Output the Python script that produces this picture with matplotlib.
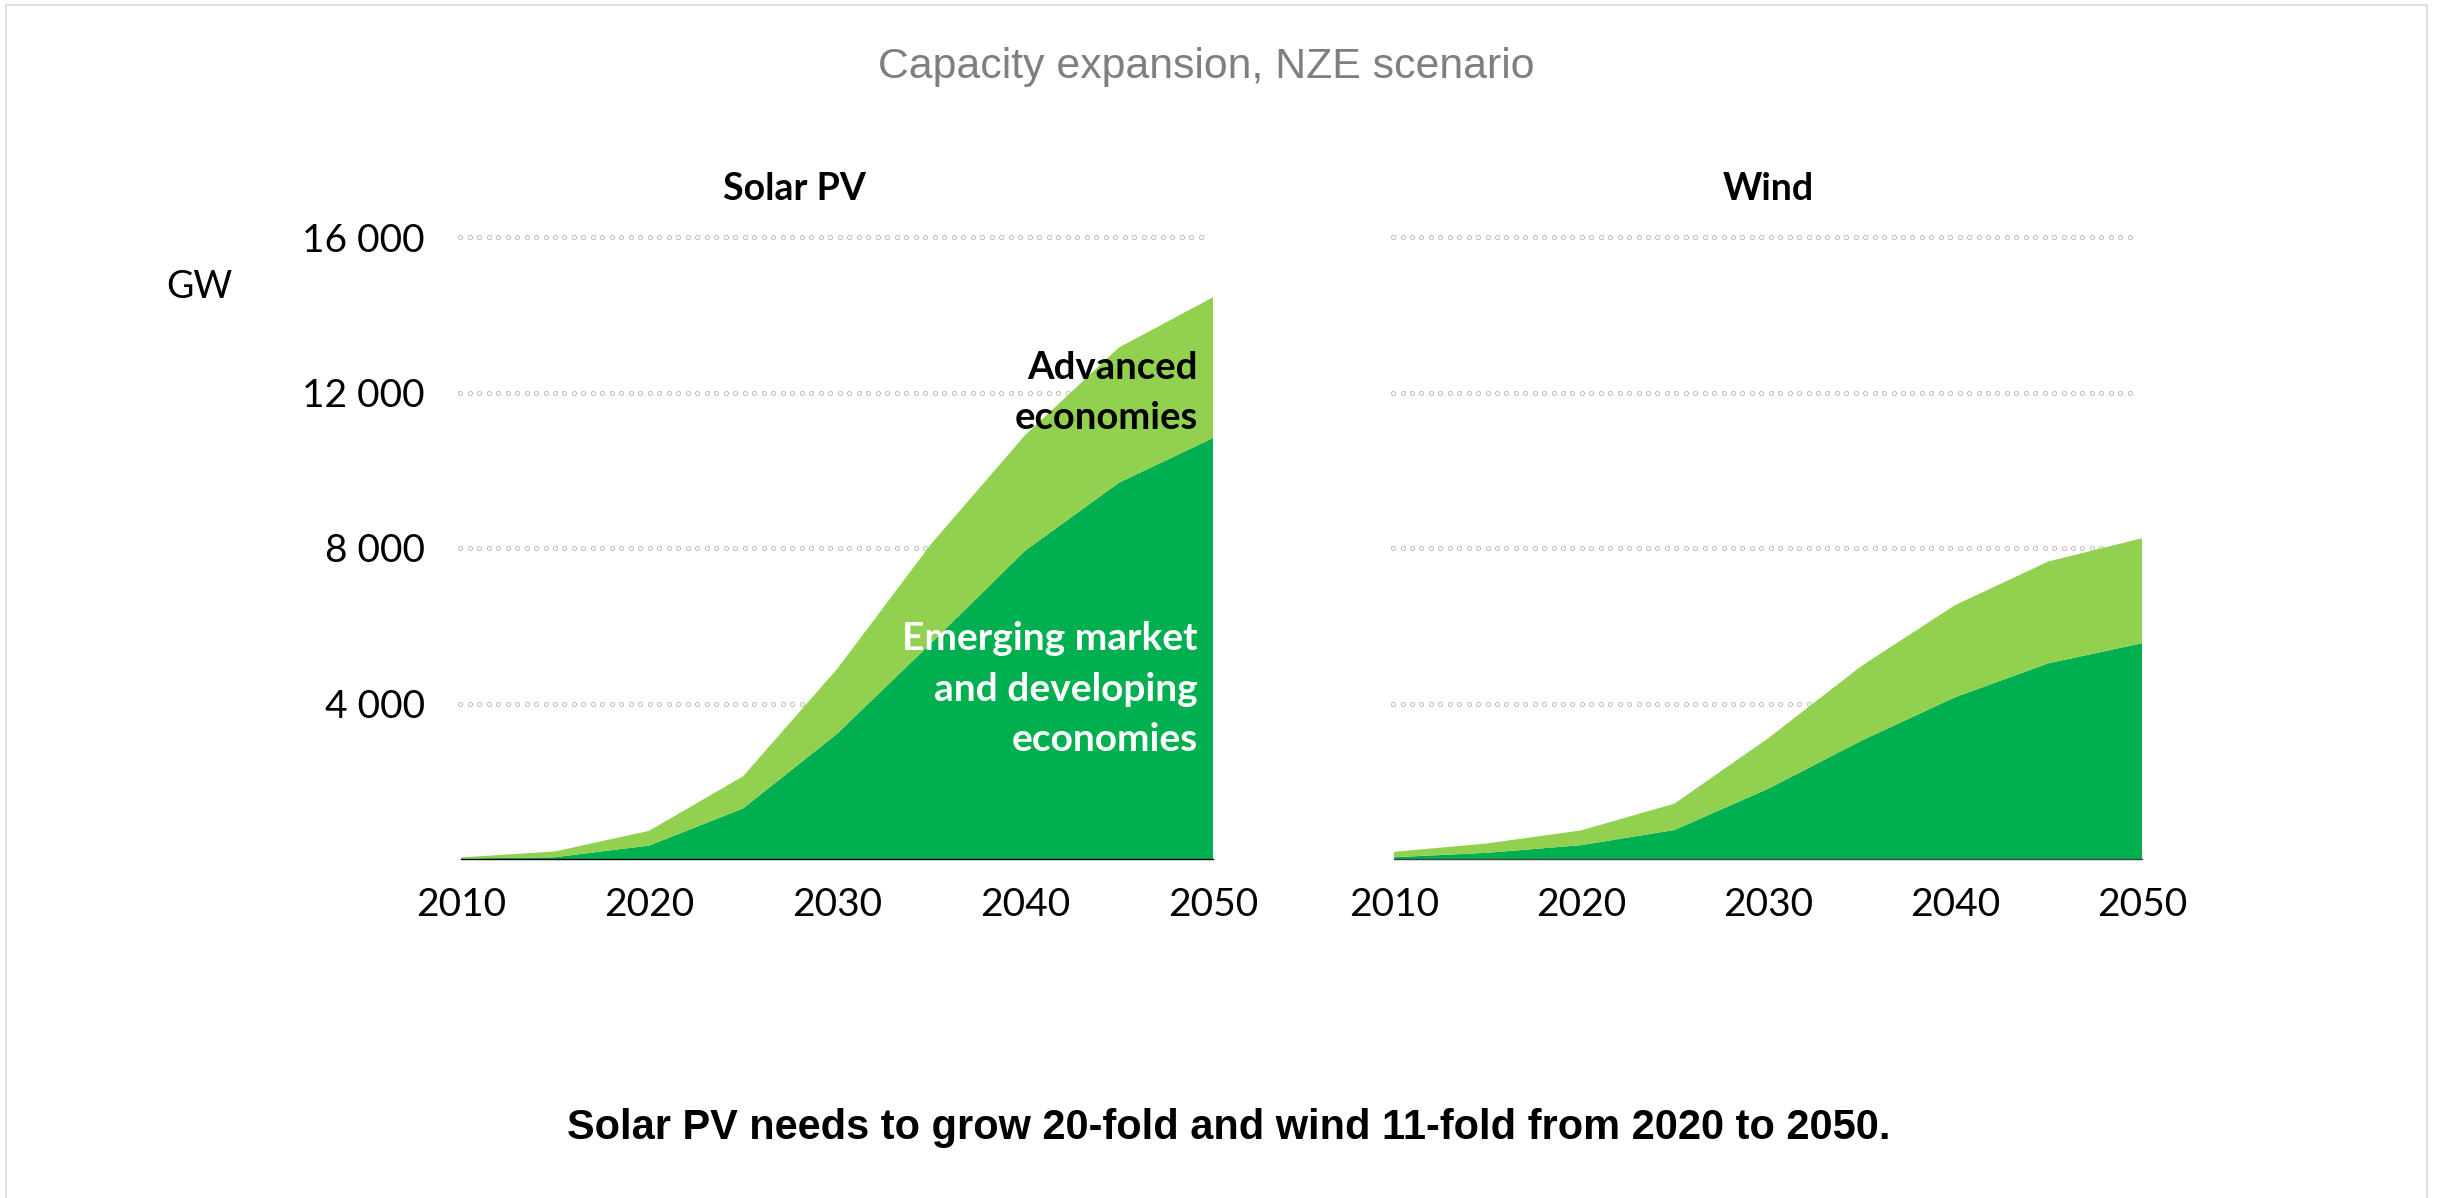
import numpy as np
import matplotlib
matplotlib.use("Agg")
import matplotlib.pyplot as plt
from matplotlib.ticker import FuncFormatter
from matplotlib.patches import Rectangle

# Installed capacity (GW) by region group, NZE scenario
years = [2010, 2015, 2020, 2025, 2030, 2035, 2040, 2045, 2050]
solar_emde = [10, 46, 345, 1300, 3220, 5550, 7930, 9680, 10830]
solar_advanced = [30, 149, 379, 826, 1665, 2550, 2970, 3480, 3620]
wind_emde = [46, 160, 356, 747, 1805, 3045, 4160, 5035, 5550]
wind_advanced = [138, 242, 380, 678, 1298, 1920, 2370, 2620, 2700]

panel_titles = ["Solar PV", "Wind"]
y_ticks = [4000, 8000, 12000, 16000]
x_ticks = [2010, 2020, 2030, 2040, 2050]

DARK = "#00B050"
LIGHT = "#92D050"
GRID = "#BFBFBF"
W, H = 2440, 1198

plt.rcParams["font.family"] = ["Lato", "DejaVu Sans"]

fig = plt.figure(figsize=(W / 100, H / 100), dpi=100)
fig.patch.set_facecolor("white")


def frac_x(px):
    return px / W


def frac_y(py):
    return 1 - py / H


axes_px = [(461, 1213), (1394, 2142)]
top_px, base_px = 237, 859
series = [(solar_emde, solar_advanced), (wind_emde, wind_advanced)]
spine_colors = ["black", "#404040"]

axes = []
for i, ((x0, x1), (emde, adv)) in enumerate(zip(axes_px, series)):
    ax = fig.add_axes([frac_x(x0), frac_y(base_px), (x1 - x0) / W,
                       (base_px - top_px) / H])
    ax.set_xlim(2010, 2050)
    ax.set_ylim(0, 16000)
    ax.set_facecolor("none")

    # dotted gridlines made of small open circles
    dots = np.arange(2009.95, 2049.8, 0.505)
    for yv in y_ticks:
        ax.plot(dots, np.full_like(dots, yv), linestyle="none", marker="o",
                markersize=3.0, markerfacecolor="white", markeredgecolor=GRID,
                markeredgewidth=0.7, zorder=1, clip_on=False)

    ax.stackplot(years, emde, adv, colors=[DARK, LIGHT], linewidth=0,
                 zorder=2)

    for s in ["top", "right", "left"]:
        ax.spines[s].set_visible(False)
    ax.spines["bottom"].set_color(spine_colors[i])
    ax.spines["bottom"].set_linewidth(1.0)
    ax.spines["bottom"].set_zorder(3)

    ax.set_xticks(x_ticks)
    ax.set_xticklabels([str(x) for x in x_ticks])
    ax.tick_params(axis="x", length=0, pad=20, labelsize=28)
    ax.set_yticks(y_ticks)
    if i == 0:
        ax.yaxis.set_major_formatter(
            FuncFormatter(lambda v, p: f"{int(v):,}".replace(",", " ")))
        ax.tick_params(axis="y", length=0, pad=26, labelsize=28)
    else:
        ax.tick_params(axis="y", length=0, labelleft=False)
    axes.append(ax)

# region labels on the solar panel
axes[0].text(2049.2, 11990, "Advanced\neconomies", ha="right", va="center",
             fontsize=27.5, fontweight="bold", color="black", linespacing=1.55,
             zorder=4)
axes[0].text(2049.2, 4370, "Emerging market\nand developing\neconomies",
             ha="right", va="center", fontsize=28, fontweight="bold",
             color="white", linespacing=1.53, zorder=4)

# panel headings
fig.text(frac_x(794), frac_y(189), panel_titles[0], ha="center", va="center",
         fontsize=27, fontweight="bold")
fig.text(frac_x(1768), frac_y(189), panel_titles[1], ha="center", va="center",
         fontsize=27, fontweight="bold")

# unit label
fig.text(frac_x(199), frac_y(287), "GW", ha="center", va="center",
         fontsize=27)

# chart title and caption
fig.text(frac_x(1206), frac_y(67), "Capacity expansion, NZE scenario",
         ha="center", va="center", fontsize=30.8, color="#7F7F7F",
         family=["Liberation Sans", "DejaVu Sans"])
fig.text(frac_x(1229), frac_y(1128),
         "Solar PV needs to grow 20-fold and wind 11-fold from 2020 to 2050.",
         ha="center", va="center", fontsize=29.9, fontweight="bold",
         color="black", family=["Liberation Sans", "DejaVu Sans"])

# light frame around the figure
fig.patches.append(Rectangle((frac_x(6), -0.02), frac_x(2427 - 6),
                             frac_y(5) + 0.02, transform=fig.transFigure,
                             fill=False, edgecolor="#D9D9D9", linewidth=1.2,
                             zorder=0))

fig.savefig("out.png", dpi=100, facecolor="white")
